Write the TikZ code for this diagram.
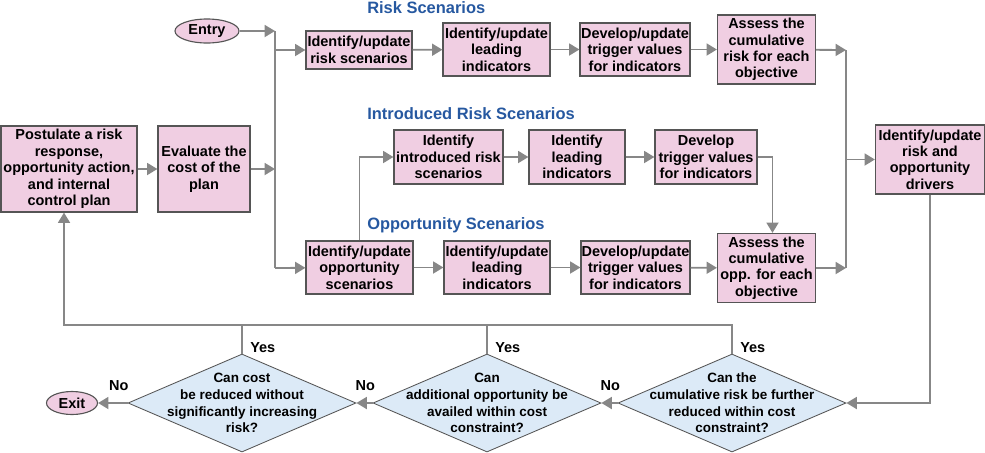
\documentclass[tikz,border=0pt]{standalone}
\usepackage{fontspec}
\setmainfont{Liberation Sans}
\usepackage{xcolor}
\definecolor{boxpink}{RGB}{240,206,226}
\definecolor{qblue}{RGB}{220,234,247}
\definecolor{edgegray}{RGB}{85,85,85}
\definecolor{wiregray}{RGB}{135,135,135}
\definecolor{titleblue}{RGB}{38,88,160}
\usetikzlibrary{arrows.meta,shapes.geometric}
\newcommand{\flowfont}{\fontsize{10.3}{11.7}\selectfont\bfseries}
\newcommand{\askfont}{\fontsize{9.6}{11.9}\selectfont\bfseries}

\begin{document}
\begin{tikzpicture}[x=0.25mm,y=-0.25mm,
task/.style={draw=edgegray,line width=0.8pt,fill=boxpink,align=center,inner sep=0pt,font=\flowfont},
term/.style={ellipse,draw=edgegray,line width=0.8pt,fill=boxpink,inner sep=0pt,font=\flowfont},
decide/.style={diamond,draw=edgegray,line width=0.6pt,fill=qblue,inner sep=0pt,minimum width=57mm,minimum height=24.5mm},
qtext/.style={align=center,inner sep=0pt,font=\askfont},
heading/.style={anchor=west,inner sep=0pt,text=titleblue,font=\fontsize{11.7}{13}\selectfont\bfseries},
ans/.style={inner sep=0pt,font=\flowfont},
wire/.style={draw=wiregray,line width=1.3pt},
flow/.style={wire,-{Triangle[length=2.6mm,width=3mm]}}]
\useasboundingbox (0,0) rectangle (985,452);
% entry, bus and the three scenario rows
\node[term,minimum width=16mm,minimum height=6mm] (entry) at (207,31) {Entry};
\coordinate (btop) at (275,31);
\coordinate (bbot) at (275,268);
\node[heading] (hrisk) at (367,8) {Risk Scenarios};
\node[heading] (hintro) at (367,114) {Introduced Risk Scenarios};
\node[heading] (hopp) at (367,225) {Opportunity Scenarios};
\node[task,minimum width=26.5mm,minimum height=9.5mm] (r1) at (359,50) {Identify/update\\risk scenarios};
\node[task,minimum width=26.75mm,minimum height=13.25mm] (r2) at (496.5,49.5) {Identify/update\\leading\\indicators};
\node[task,minimum width=27.5mm,minimum height=13.25mm] (r3) at (635,49.5) {Develop/update\\trigger values\\for indicators};
\node[task,minimum width=24.5mm,minimum height=17.25mm] (r4) at (766.5,49.5) {Assess the\\cumulative\\risk for each\\objective};
\node[task,minimum width=27.25mm,minimum height=13.5mm] (i1) at (448.5,157) {Identify\\introduced risk\\scenarios};
\node[task,minimum width=24mm,minimum height=13.5mm] (i2) at (577,157) {Identify\\leading\\indicators};
\node[task,minimum width=25.5mm,minimum height=13.5mm] (i3) at (706,157) {Develop\\trigger values\\for indicators};
\node[task,minimum width=26.75mm,minimum height=13.25mm] (o1) at (359.5,267.5) {Identify/update\\opportunity\\scenarios};
\node[task,minimum width=26.5mm,minimum height=13.25mm] (o2) at (497,267.5) {Identify/update\\leading\\indicators};
\node[task,minimum width=27.25mm,minimum height=13.25mm] (o3) at (635.5,267.5) {Develop/update\\trigger values\\for indicators};
\node[task,minimum width=24.5mm,minimum height=17.25mm] (o4) at (766.5,268) {Assess the\\cumulative\\opp. for each\\objective};
\coordinate (mtop) at (846,50);
\coordinate (mbot) at (846,268);
\node[task,minimum width=27.25mm,minimum height=17.25mm] (drv) at (930,159.5) {Identify/update\\risk and\\opportunity\\drivers};
\node[task,minimum width=34mm,minimum height=21.5mm] (post) at (69,169) {Postulate a risk\\response,\\opportunity action,\\and internal\\control plan};
\node[task,minimum width=23mm,minimum height=21.5mm] (eval) at (204,169) {Evaluate the\\cost of the\\plan};
% decisions
\node[decide,label={[qtext]center:{Can the\\cumulative risk be further\\reduced within cost\\constraint?}}] (d3) at (732,403) {};
\node[decide,label={[qtext]center:{Can\\additional opportunity be\\availed within cost\\constraint?}}] (d2) at (487,403) {};
\node[decide,label={[qtext]center:{Can cost\\be reduced without\\significantly increasing\\risk?}}] (d1) at (242,403) {};
\node[term,minimum width=12.75mm,minimum height=5.75mm] (exit) at (72,403) {Exit};
\coordinate (yesbus) at (64,325);
% connectors
\draw[flow] (entry) -- (btop); \draw[flow] (post) -- (eval); \draw[flow] (eval) -- (eval -| btop);
\draw[wire] (btop) -- (bbot);
\draw[flow] (btop |- r1) -- (r1); \draw[flow] (bbot) -- (o1);
\draw[flow] (r1) -- (r2); \draw[flow] (r2) -- (r3); \draw[flow] (r3) -- (r4);
\draw[flow] (o1) -- (o2); \draw[flow] (o2) -- (o3); \draw[flow] (o3) -- (o4);
\draw[flow] (o1.north) |- (i1); \draw[flow] (i1) -- (i2); \draw[flow] (i2) -- (i3);
\draw[flow] (i3.east) -| ([xshift=1.5mm]o4.north);
\draw[flow] (r4) -- (mtop); \draw[flow] (o4) -- (mbot);
\draw[wire] (mtop) -- (mbot);
\draw[flow] (mtop |- drv) -- (drv);
\draw[flow] (drv.south) |- (d3.east);
\draw[flow] (d3) -- node[ans,pos=.45,above=2.75mm] {No} (d2);
\draw[flow] (d2) -- node[ans,pos=.45,above=2.75mm] {No} (d1);
\draw[flow] (d1) -- node[ans,pos=.3,above=2.75mm] {No} (exit);
\draw[flow] (d3.north) |- (yesbus) -- (yesbus |- post.south);
\draw[wire] (d2.north) -- (d2.north |- yesbus);
\draw[wire] (d1.north) -- (d1.north |- yesbus);
\node[ans,anchor=west] (y1) at (250,348) {Yes};
\node[ans,anchor=west] (y2) at (495,348) {Yes};
\node[ans,anchor=west] (y3) at (740,348) {Yes};
\end{tikzpicture}
\end{document}
